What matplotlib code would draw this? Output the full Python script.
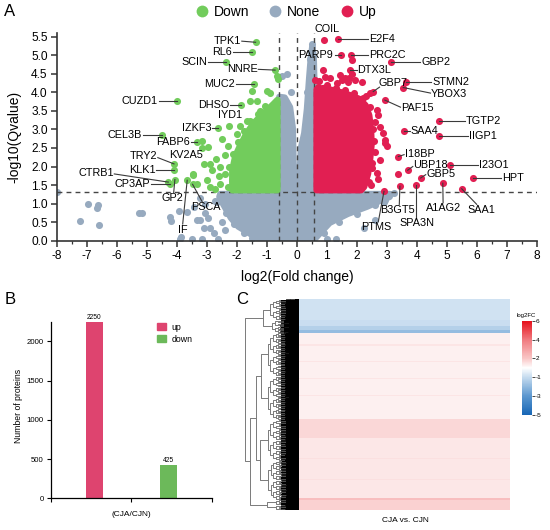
import numpy as np
import matplotlib
matplotlib.use("Agg")
import matplotlib.pyplot as plt
from matplotlib.patches import Polygon, Patch
from matplotlib.lines import Line2D
from matplotlib.collections import LineCollection
from matplotlib.colors import LinearSegmentedColormap, Normalize
from matplotlib.cm import ScalarMappable

plt.rcParams['font.family'] = ['Liberation Sans', 'DejaVu Sans']
plt.rcParams['axes.unicode_minus'] = False

# ------------------------------------------------------------------ data
# Panel A : labelled proteins (log2 fold change, -log10 Q)
UP_GENES = ['COIL', 'E2F4', 'PARP9', 'PRC2C', 'GBP2', 'DTX3L', 'GBP7', 'STMN2',
            'YBOX3', 'PAF15', 'TGTP2', 'SAA4', 'IIGP1', 'I18BP', 'UBP18', 'I23O1',
            'GBP5', 'HPT', 'A1AG2', 'SAA1', 'B3GT5', 'SPA3N', 'PTMS']
UP_FC = [0.92, 1.37, 1.47, 1.81, 3.13, 1.78, 2.55, 3.64,
         3.55, 2.94, 4.74, 3.59, 4.75, 3.39, 3.70, 5.11,
         4.13, 5.87, 4.87, 5.50, 3.44, 3.97, 2.91]
UP_Q = [5.40, 5.44, 5.02, 5.02, 4.83, 4.60, 4.02, 4.27,
        4.13, 3.79, 3.22, 2.97, 2.82, 2.27, 1.90, 2.05,
        1.69, 1.69, 1.55, 1.40, 1.47, 1.51, 1.33]

DOWN_GENES = ['TPK1', 'RL6', 'SCIN', 'NNRE', 'MUC2', 'CUZD1', 'DHSO', 'IYD1',
              'IZKF3', 'CEL3B', 'FABP6', 'TRY2', 'KV2A5', 'KLK1', 'CTRB1',
              'CP3AP', 'GP2', 'IF', 'PSCA']
DOWN_FC = [-1.37, -1.50, -2.36, -0.72, -1.42, -3.98, -1.87, -2.27,
           -2.61, -4.50, -3.33, -4.09, -3.45, -4.09, -4.28,
           -4.22, -4.06, -3.65, -3.47]
DOWN_Q = [5.35, 5.08, 4.81, 4.60, 4.22, 3.78, 3.66, 3.09,
          3.04, 2.86, 2.65, 2.07, 1.78, 1.90, 1.58,
          1.54, 1.65, 1.63, 1.52]

# other individually visible points
UP_PTS_FC = [0.62, 0.94, 1.11, 1.44, 1.50, 1.70, 1.94, 2.17, 1.83, 1.83, 1.74, 0.89,
             1.33, 1.61, 2.44, 2.67, 2.70, 2.78, 2.89, 2.94, 2.94, 3.00, 2.78, 2.67,
             2.70, 2.40, 2.50, 3.37, 2.60, 2.60, 2.30, 0.75,
             0.70, 1.00, 1.30, 1.60, 1.90, 2.20, 2.45, 2.55, 2.58, 2.52, 2.48]
UP_PTS_Q = [4.33, 4.42, 4.40, 4.47, 4.33, 4.27, 4.33, 4.29, 4.87, 4.50, 4.40, 4.60,
            4.24, 4.38, 3.99, 3.52, 3.40, 3.07, 2.90, 2.72, 2.63, 2.54, 2.18, 1.82,
            1.66, 1.57, 1.95, 1.80, 2.40, 3.20, 3.90, 4.30,
            4.15, 4.20, 4.12, 4.05, 3.98, 3.85, 3.60, 3.00, 2.70, 2.10, 1.50]
DOWN_PTS_FC = [-0.90, -1.00, -1.50, -1.56, -1.33, -0.65, -0.62, -1.22, -0.89, -1.67,
               -2.00, -2.50, -2.95, -3.16, -2.89, -3.10, -3.45, -2.56, -2.39, -2.56,
               -2.72, -2.17, -3.00, -3.33, -3.15, -2.83, -2.70, -2.40, -2.30, -1.90,
               -2.90, -2.60, -2.28, -2.25, -2.12, -1.95, -1.75, -1.55, -1.30, -1.05]
DOWN_PTS_Q = [3.98, 4.03, 4.03, 3.76, 3.76, 4.45, 4.35, 3.50, 3.50, 3.24,
              2.88, 2.75, 2.52, 2.50, 2.07, 2.07, 1.81, 1.98, 1.81, 1.54,
              1.40, 1.63, 1.63, 1.54, 2.70, 1.90, 2.20, 2.30, 2.55, 3.10,
              1.45, 1.75, 1.45, 2.00, 2.35, 2.65, 2.95, 3.22, 3.42, 3.62]
NONE_PTS_FC = [-8.00, -6.95, -7.22, -6.63, -6.67, -6.58, -5.25, -5.17, -4.22, -4.19,
               -3.92, -3.67, -3.44, -3.89, -3.85, -3.22, -3.05, -2.89, -2.75, -2.61,
               -3.22, -3.05, -2.72, -2.39, -3.33, -2.95, -2.50, -2.40, -3.10,
               3.10, 3.25, 2.95, 2.60, 1.00, 1.30, 2.25, 2.60,
               0.50, 0.45, -0.33, -0.48, 0.35, -0.20,
               -2.65, -2.35, -2.10, -1.75, -1.50, 1.40, 2.00, 2.60, 0.90, 2.90,
               -3.50, -3.15]
NONE_PTS_Q = [1.31, 0.98, 0.53, 0.95, 0.87, 0.41, 0.76, 0.76, 0.63, 0.53,
              0.81, 0.77, 0.92, 0.04, 0.10, 0.56, 0.76, 0.35, 0.20, 0.04,
              1.14, 1.00, 1.07, 1.20, 0.56, 0.60, 0.50, 0.30, 0.35,
              1.25, 1.28, 1.10, 1.00, 0.05, 0.05, 0.35, 0.55,
              5.30, 4.90, 4.50, 4.44, 4.00, 4.00,
              1.05, 0.75, 0.45, 0.20, 0.08, 0.50, 0.72, 0.95, 0.20, 1.05,
              0.04, 0.04]

# outlines of the dense point clouds (log2FC, -log10Q)
UP_CLOUD_FC = [0.66, 0.66, 0.90, 1.20, 1.50, 1.80, 2.10, 2.30, 2.42, 2.48, 2.50, 2.45, 2.38, 2.25, 2.15]
UP_CLOUD_Q = [1.36, 4.08, 4.12, 4.06, 4.00, 3.92, 3.82, 3.65, 3.38, 3.00, 2.60, 2.20, 1.80, 1.45, 1.36]
DOWN_CLOUD_FC = [-0.64, -2.15, -2.15, -2.05, -1.88, -1.68, -1.45, -1.20, -0.95, -0.76, -0.64]
DOWN_CLOUD_Q = [1.36, 1.36, 1.90, 2.28, 2.58, 2.88, 3.16, 3.36, 3.55, 3.70, 3.80]
NONE_CLOUD_FC = [-2.55, -0.62, -0.58, -0.40, -0.22, -0.13, -0.09, 0.0, 0.09, 0.14,
                 0.25, 0.34, 0.41, 0.47, 0.52, 0.57, 0.60, 0.62, 3.10, 3.10, 2.85,
                 2.36, 1.70, 1.10, 0.62, -1.30, -1.95, -2.20, -2.45, -2.58]
NONE_CLOUD_Q = [1.26, 1.26, 3.88, 3.86, 3.60, 3.05, 1.72, 1.55, 1.72, 2.50,
                2.90, 3.55, 4.35, 4.95, 5.25, 4.95, 4.00, 1.26, 1.26, 1.18, 1.10,
                0.92, 0.72, 0.48, 0.06, 0.06, 0.38, 0.62, 0.98, 1.18]

FC_CUT = 0.585
Q_CUT = 1.301

# Panel B
BAR_CATS = ['up', 'down']
BAR_VALUES = [2250, 425]
BAR_GROUP = '(CJA/CJN)'

# Panel C : heat map rows (count, log2FC), top to bottom
HM_COUNTS = [262, 80, 46, 37,
             150, 15, 200, 15, 200, 15, 200, 15, 290,
             240, 250, 15, 250, 15, 232, 18, 130]
HM_VALUES = [-0.7, -0.9, -1.3, -1.9,
             0.9, 1.2, 0.9, 1.2, 0.9, 1.2, 0.9, 1.2, 0.9,
             1.5, 1.1, 1.3, 1.1, 1.3, 1.1, 2.2, 1.7]
HM_COLUMN = 'CJA vs. CJN'
CB_TICKS = [-5, -3, -1, 2, 4, 6]
# top of the row tree: [height, upper branch, lower branch]; ints = leaf counts
DENDRO = [1.00,
          [0.66, 262, 163],
          [0.90,
           [0.80, [0.70, 550, 550], [0.72, 520, 500]],
           [0.60, 65, 65]]]

# ------------------------------------------------------------------ style
C_DOWN = '#72CC5C'
C_NONE = '#97AABF'
C_UP = '#E11F52'
DASH = '#454545'

fig = plt.figure(figsize=(5.5, 5.3), dpi=100)

# ------------------------------------------------------------------ panel A
ax = fig.add_axes([56.7 / 550, 1 - 240.7 / 530, 480 / 550, 207.7 / 530])
for cx, cy, col in [(NONE_CLOUD_FC, NONE_CLOUD_Q, C_NONE),
                    (DOWN_CLOUD_FC, DOWN_CLOUD_Q, C_DOWN),
                    (UP_CLOUD_FC, UP_CLOUD_Q, C_UP)]:
    z = 1 if col == C_NONE else 3
    ax.add_patch(Polygon(np.column_stack([cx, cy]), closed=True, facecolor=col,
                         edgecolor=col, lw=4.5, joinstyle='round', zorder=z))
ax.scatter(NONE_PTS_FC, NONE_PTS_Q, s=26, c=C_NONE, lw=0, zorder=1)
ax.scatter(DOWN_PTS_FC + DOWN_FC, DOWN_PTS_Q + DOWN_Q, s=26, c=C_DOWN, lw=0, zorder=3)
ax.scatter(UP_PTS_FC + UP_FC, UP_PTS_Q + UP_Q, s=26, c=C_UP, lw=0, zorder=3)

for xv in (-FC_CUT, 0, FC_CUT):
    ax.axvline(xv, color=DASH, lw=1.0, dashes=(3.5, 3), zorder=2)
ax.axhline(Q_CUT, color=DASH, lw=1.0, dashes=(3.5, 3), zorder=2)

# label layout: text x, text y, alignment, end of leader line
LAYOUT = {
    'COIL': (1.00, 5.70, 'center', None),
    'E2F4': (2.42, 5.44, 'left', (2.36, 5.44)),
    'PARP9': (1.22, 5.02, 'right', (1.26, 5.02)),
    'PRC2C': (2.42, 5.02, 'left', (2.36, 5.02)),
    'GBP2': (4.15, 4.83, 'left', (4.10, 4.83)),
    'DTX3L': (2.02, 4.60, 'left', (2.00, 4.60)),
    'GBP7': (2.72, 4.24, 'left', (2.76, 4.14)),
    'STMN2': (4.52, 4.27, 'left', (4.48, 4.27)),
    'YBOX3': (4.48, 3.96, 'left', (4.46, 3.98)),
    'PAF15': (3.48, 3.58, 'left', (3.46, 3.60)),
    'TGTP2': (5.63, 3.22, 'left', (5.60, 3.22)),
    'SAA4': (3.78, 2.97, 'left', (3.76, 2.97)),
    'IIGP1': (5.74, 2.82, 'left', (5.70, 2.82)),
    'I18BP': (3.60, 2.34, 'left', (3.58, 2.32)),
    'UBP18': (3.89, 2.05, 'left', (3.87, 2.00)),
    'I23O1': (6.09, 2.05, 'left', (6.05, 2.05)),
    'GBP5': (4.33, 1.81, 'left', (4.30, 1.78)),
    'HPT': (6.85, 1.69, 'left', (6.82, 1.69)),
    'A1AG2': (4.90, 0.87, 'center', (4.88, 1.02)),
    'SAA1': (6.17, 0.82, 'center', (6.00, 0.98)),
    'B3GT5': (3.37, 0.82, 'center', (3.42, 0.98)),
    'SPA3N': (4.00, 0.48, 'center', (3.97, 0.64)),
    'PTMS': (2.64, 0.36, 'center', (2.72, 0.51)),
    'TPK1': (-1.85, 5.38, 'right', (-1.83, 5.38)),
    'RL6': (-2.15, 5.08, 'right', (-2.13, 5.08)),
    'SCIN': (-2.98, 4.81, 'right', (-2.96, 4.81)),
    'NNRE': (-1.30, 4.62, 'right', (-1.28, 4.62)),
    'MUC2': (-2.06, 4.22, 'right', (-2.04, 4.22)),
    'CUZD1': (-4.63, 3.78, 'right', (-4.60, 3.78)),
    'DHSO': (-2.25, 3.66, 'right', (-2.23, 3.66)),
    'IYD1': (-2.22, 3.40, 'center', None),
    'IZKF3': (-2.85, 3.04, 'right', (-2.83, 3.04)),
    'CEL3B': (-5.15, 2.86, 'right', (-5.12, 2.86)),
    'FABP6': (-3.55, 2.65, 'right', (-3.53, 2.65)),
    'TRY2': (-4.65, 2.28, 'right', (-4.63, 2.24)),
    'KV2A5': (-3.69, 2.32, 'center', None),
    'KLK1': (-4.70, 1.90, 'right', (-4.68, 1.90)),
    'CTRB1': (-6.10, 1.82, 'right', (-6.08, 1.80)),
    'CP3AP': (-4.88, 1.54, 'right', (-4.86, 1.54)),
    'GP2': (-4.13, 1.16, 'center', (-4.10, 1.30)),
    'IF': (-3.81, 0.30, 'center', (-3.80, 0.45)),
    'PSCA': (-3.02, 0.90, 'center', (-3.15, 1.05)),
}
for names, xs, ys in [(UP_GENES, UP_FC, UP_Q), (DOWN_GENES, DOWN_FC, DOWN_Q)]:
    for g, px, py in zip(names, xs, ys):
        tx, ty, ha, end = LAYOUT[g]
        if end is not None:
            ax.plot([px, end[0]], [py, end[1]], color='#3a3a3a', lw=0.8, zorder=4)
        ax.text(tx, ty, g, ha=ha, va='center', fontsize=7.8, color='black', zorder=5)

ax.set_xlim(-8, 8)
ax.set_ylim(0, 5.6)
ax.set_xticks(np.arange(-8, 9, 1))
ax.set_xticks(np.arange(-8, 8.01, 0.5), minor=True)
ax.set_yticks(np.arange(0, 5.51, 0.5))
ax.set_yticklabels(['%.1f' % v for v in np.arange(0, 5.51, 0.5)])
for s in ('top', 'right'):
    ax.spines[s].set_visible(False)
for s in ('left', 'bottom'):
    ax.spines[s].set_linewidth(1.2)
    ax.spines[s].set_color('#333333')
ax.tick_params(which='major', length=4, width=1.1, color='#333333', labelsize=8.6, pad=2.5)
ax.tick_params(which='minor', length=2, width=0.9, color='#333333')
ax.tick_params(axis='y', which='minor', length=0)
fig.text(14 / 550, 1 - 137 / 530, '-log10(Qvalue)', rotation=90, ha='center',
         va='center', fontsize=10)
fig.text(297 / 550, 1 - 277 / 530, 'log2(Fold change)', ha='center', va='center',
         fontsize=10)

handles = [Line2D([], [], ls='', marker='o', ms=8.5, mec='none', mfc=c)
           for c in (C_DOWN, C_NONE, C_UP)]
fig.legend(handles, ['Down', 'None', 'Up'], loc='center', bbox_to_anchor=(0.518, 0.977),
           ncol=3, frameon=False, fontsize=10, handletextpad=0.25, columnspacing=1.3,
           handlelength=1.2, borderaxespad=0)

# ------------------------------------------------------------------ panel B
bx = fig.add_axes([50.7 / 550, 1 - 498.3 / 530, 161 / 550, 176.6 / 530])
BAR_COLORS = ['#DE446F', '#6CB95A']
BAR_POS = [-0.46, 0.46]
bx.bar(BAR_POS, BAR_VALUES, width=0.21, color=BAR_COLORS)
for p, v in zip(BAR_POS, BAR_VALUES):
    bx.text(p, v + 15, str(v), ha='center', va='bottom', fontsize=4.8, clip_on=False)
bx.set_xlim(-1, 1)
bx.set_ylim(0, 2250)
bx.set_yticks([0, 500, 1000, 1500, 2000])
bx.set_xticks([-1, 0, 1])
bx.set_xticklabels(['', BAR_GROUP, ''])
for s in ('top', 'right'):
    bx.spines[s].set_visible(False)
for s in ('left', 'bottom'):
    bx.spines[s].set_linewidth(0.9)
bx.tick_params(length=3, width=0.8, labelsize=5.6, pad=2)
bx.tick_params(axis='x', labelsize=6, pad=6)
fig.text(18.3 / 550, 1 - 406 / 530, 'Number of proteins', rotation=90, ha='center',
         va='center', fontsize=6.2)
bx.legend([Patch(color=c) for c in BAR_COLORS], BAR_CATS, loc='upper left',
          bbox_to_anchor=(0.63, 1.02), frameon=False, fontsize=6.3, handlelength=1.1,
          handleheight=0.9, handletextpad=0.6, labelspacing=0.35, borderpad=0)

# ------------------------------------------------------------------ panel C
n_rows = int(np.sum(HM_COUNTS))
hm_vals = np.repeat(HM_VALUES, HM_COUNTS).reshape(-1, 1)
cb_pos = np.linspace(0, 1, len(CB_TICKS))
hm_pos = np.interp(hm_vals, CB_TICKS, cb_pos)
cmap = LinearSegmentedColormap.from_list(
    'bwr_fc', [(0.0, '#1766b5'), (0.2, '#5b97cf'), (0.4, '#c5dbef'), (0.5, '#ffffff'),
               (0.6, '#f9c6c6'), (0.8, '#f07a7f'), (1.0, '#e60f1a')])

hx = fig.add_axes([299.3 / 550, 1 - 510 / 530, 210.7 / 550, 210.7 / 530])
hx.imshow(hm_pos, aspect='auto', cmap=cmap, vmin=0, vmax=1, interpolation='nearest',
          extent=(0, 1, n_rows, 0))
hx.set_axis_off()
fig.text(405 / 550, 1 - 520 / 530, HM_COLUMN, ha='center', va='center', fontsize=6)

# dendrogram
dx = fig.add_axes([245 / 550, 1 - 510 / 530, 54.3 / 550, 210.7 / 530])
segs_gray, segs_black = [], []


def h_auto(n):
    lv = np.log2(n)
    return 0.33 * lv / 4 if lv <= 4 else 0.33 + (lv - 4) * 0.05


def build(node, lo):
    if isinstance(node, int):
        n = node
        if n == 1:
            return lo + 0.5, 0.0, 1
        a = n // 2
        left = build(a, lo)
        right = build(n - a, lo + a)
        h = h_auto(n)
    else:
        h, ln, rn = node
        left = build(ln, lo)
        right = build(rn, lo + left[2])
        n = left[2] + right[2]
    seg = [(left[1], left[0]), (h, left[0]), (h, right[0]), (right[1], right[0])]
    (segs_black if h < 0.36 else segs_gray).append(seg)
    return (left[0] + right[0]) / 2, h, n


build(DENDRO, 0)
dx.add_collection(LineCollection(segs_gray, colors='#7a7a7a', linewidths=0.7))
dx.add_collection(LineCollection(segs_black, colors='#000000', linewidths=0.5))
dx.set_xlim(1.0, 0)
dx.set_ylim(n_rows, 0)
dx.set_axis_off()

# colour bar
cax = fig.add_axes([521.7 / 550, 1 - 415 / 530, 10 / 550, 94.3 / 530])
cb = fig.colorbar(ScalarMappable(norm=Normalize(0, 1), cmap=cmap), cax=cax, ticks=cb_pos)
cb.ax.set_yticklabels([str(t) for t in CB_TICKS])
cb.outline.set_visible(False)
cb.ax.tick_params(labelsize=4.6, length=2, width=0.5, pad=1)
cax.set_title('log2FC', fontsize=4.3, pad=3)

# panel letters
fig.text(10 / 550, 1 - 12 / 530, 'A', fontsize=12, ha='center', va='center')
fig.text(10 / 550, 1 - 299 / 530, 'B', fontsize=12, ha='center', va='center')
fig.text(242 / 550, 1 - 299 / 530, 'C', fontsize=12, ha='center', va='center')

fig.savefig('out.png', dpi=100)
